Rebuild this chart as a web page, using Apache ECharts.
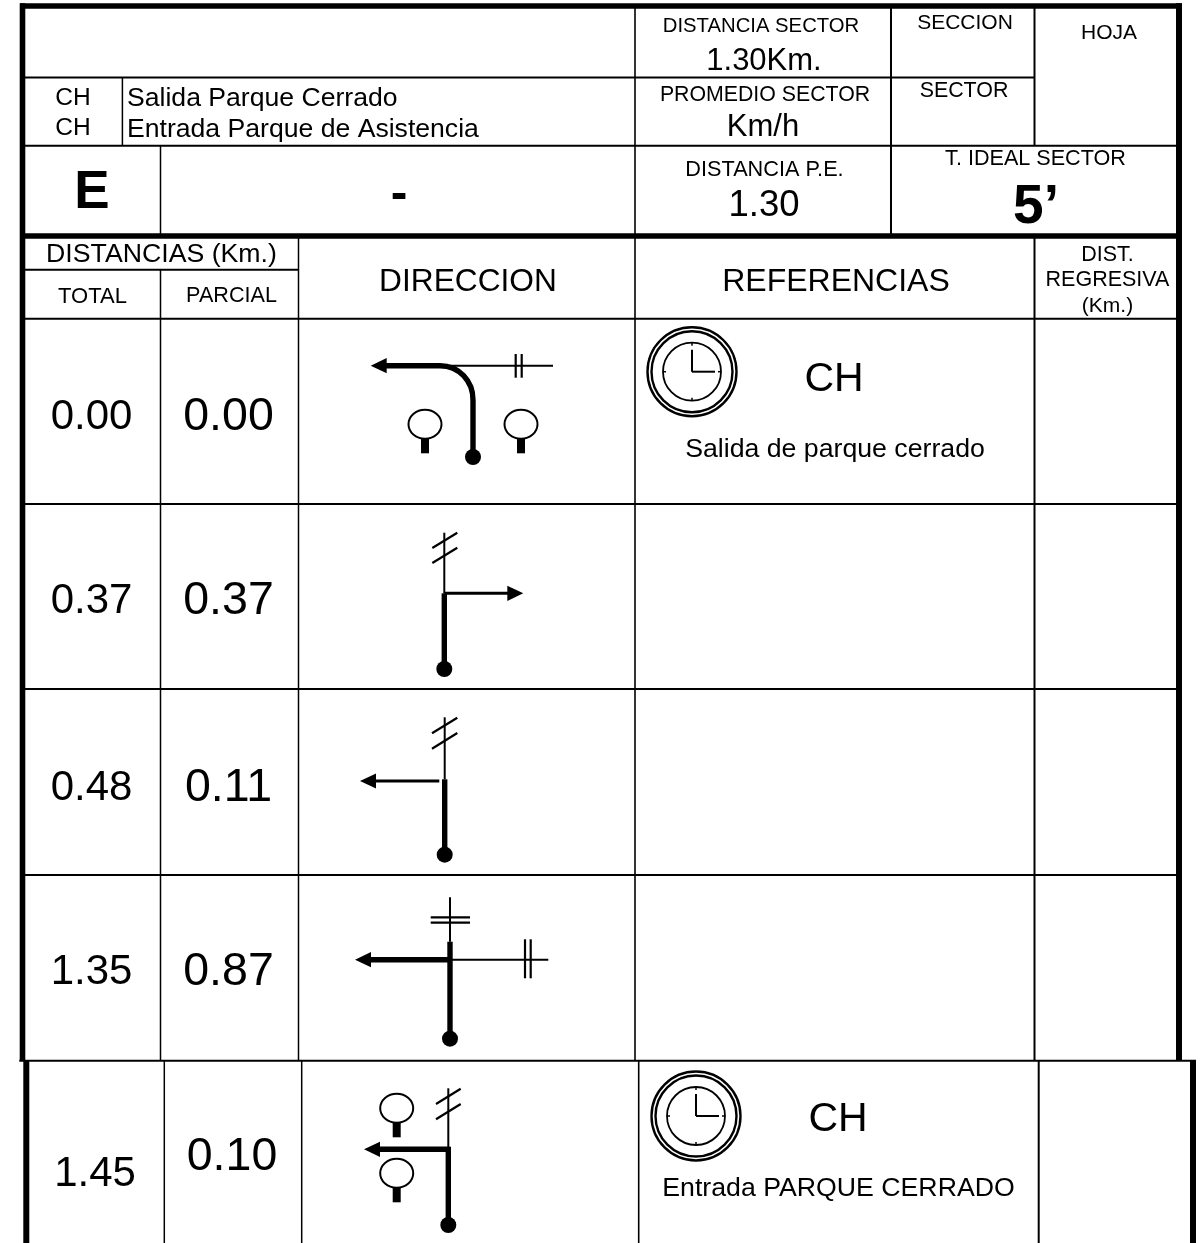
<!DOCTYPE html>
<html>
<head>
<meta charset="utf-8">
<title>Hoja de ruta</title>
<script src="https://cdn.jsdelivr.net/npm/echarts@6/dist/echarts.min.js"></script>
<style>
html,body{margin:0;padding:0;background:#fff;overflow:hidden}
#main{width:1203px;height:1243px}
</style>
</head>
<body>
<div id="main"></div>
<script>
// valores de la hoja
var totals = ['0.00', '0.37', '0.48', '1.35', '1.45'];
var partials = ['0.00', '0.37', '0.11', '0.87', '0.10'];
var controlCodes = ['CH', 'CH'];
var controlNames = ['Salida Parque Cerrado', 'Entrada Parque de Asistencia'];
var sectorLabels = ['DISTANCIA SECTOR', '1.30Km.', 'SECCION', 'HOJA', 'PROMEDIO SECTOR', 'Km/h', 'SECTOR', 'DISTANCIA P.E.', '1.30', 'T. IDEAL SECTOR'];
var columnLabels = ['DISTANCIAS (Km.)', 'TOTAL', 'PARCIAL', 'DIRECCION', 'REFERENCIAS', 'DIST.', 'REGRESIVA', '(Km.)'];
var stageLabels = ['E', '-', '5’'];
var referenceCodes = ['CH', 'CH'];
var referenceNotes = ['Salida de parque cerrado', 'Entrada PARQUE CERRADO'];

// ---- maquetacion (unidades del eje = px de pagina)
var FONT = '"Liberation Sans", Arial, sans-serif';
var rowLines = [318.7, 504, 689, 875];
var pageBreak = 1060.7, pageEnd = 1243;

var rules = [
  // marco superior
  [20, 6, 1182, 6, 5.4], [22.5, 3.3, 22.5, pageBreak, 5.6], [1179, 3.3, 1179, pageBreak, 6],
  [20, 236, 1182, 236, 5.4],
  // cabecera
  [22, 77.5, 1034.5, 77.5, 2], [22, 145.7, 1177, 145.7, 2], [122.4, 77.5, 122.4, 145.7, 1.5],
  [160.5, 145.7, 160.5, 234, 1.5], [635, 8, 635, pageBreak, 1.6], [891, 8, 891, 234, 2],
  [1034.5, 8, 1034.5, 145.7, 2], [22, 269.7, 298.5, 269.7, 2],
  [160.5, 269.7, 160.5, pageBreak, 1.5], [298.5, 238, 298.5, pageBreak, 1.5], [1034.5, 238, 1034.5, pageBreak, 2],
  // segunda hoja pegada
  [19.3, pageBreak, 1196, pageBreak, 2], [26.3, pageBreak, 26.3, pageEnd, 6], [1193, pageBreak, 1193, pageEnd, 6],
  [164.3, pageBreak, 164.3, pageEnd, 1.5], [301.7, pageBreak, 301.7, pageEnd, 1.5],
  [638.7, pageBreak, 638.7, pageEnd, 1.6], [1038.7, pageBreak, 1038.7, pageEnd, 2]
];
rowLines.forEach(function (y) { rules.push([22, y, 1177, y, 2]); });

// [texto, x, y, tamano, negrita, alineacion]
var labels = [
  [controlCodes[0], 73, 97, 24.5], [controlCodes[1], 73, 127, 24.5],
  [controlNames[0], 127, 97, 26.6, 0, 'left'], [controlNames[1], 127, 128, 26.6, 0, 'left'],
  [sectorLabels[0], 761, 25, 20.3], [sectorLabels[1], 764, 59, 31],
  [sectorLabels[2], 965, 22, 21], [sectorLabels[3], 1109, 32, 21],
  [sectorLabels[4], 765, 94, 21.3], [sectorLabels[5], 763, 125, 31],
  [sectorLabels[6], 964, 90, 21.4], [sectorLabels[7], 764.5, 169, 21.7],
  [sectorLabels[8], 764, 203, 36.5], [sectorLabels[9], 1035.5, 158, 21.6],
  [columnLabels[0], 161.5, 253, 26.7], [columnLabels[1], 92.5, 295, 22], [columnLabels[2], 231.5, 295, 21.6],
  [columnLabels[3], 468, 280, 31.7], [columnLabels[4], 836, 280, 32],
  [columnLabels[5], 1107.5, 254, 21.5], [columnLabels[6], 1107.5, 279, 21.5], [columnLabels[7], 1107.5, 305, 21],
  [stageLabels[0], 92, 190, 53, 1], [stageLabels[1], 399, 192, 50, 1], [stageLabels[2], 1036, 204, 55, 1],
  [referenceCodes[0], 834, 377, 41], [referenceNotes[0], 835, 448, 26.7],
  [referenceCodes[1], 838, 1117, 41], [referenceNotes[1], 838.5, 1187, 26.7]
];
var totalY = [414, 598, 785, 969, 1171.7];
var partialY = [414, 598, 785, 969, 1154];
totals.forEach(function (t, i) { labels.push([t, i == 4 ? 95 : 91.5, totalY[i], 42]); });
partials.forEach(function (t, i) { labels.push([t, i == 4 ? 232 : 228.5, partialY[i], 46.5]); });

// croquis de cada casilla
var sketches = [
  { thin: [[440, 365.7, 553, 365.7]], bars: [[515.7, 354, 515.7, 377.7], [521.7, 354, 521.7, 377.7]],
    thick: [[386, 365.7, 440, 365.7], [473, 400, 473, 457]], curve: [440, 365.7, 459, 365.7, 473, 381, 473, 400],
    head: [370.7, 365.7, -1], dot: [473, 457], trees: [[425, 424.3], [521, 424.3]] },
  { thin: [[444.3, 532.7, 444.3, 593.3]], bars: [[432.3, 548, 457.3, 532.7], [432.3, 563, 457.3, 547.7]],
    thick: [[444.3, 593.3, 444.3, 669]], mid: [[444.3, 593.3, 508, 593.3]],
    head: [523.3, 593.3, 1], dot: [444.3, 669], trees: [] },
  { thin: [[444.7, 717.3, 444.7, 779.3]], bars: [[432, 733.3, 457.3, 717.7], [432, 748.7, 457.3, 733]],
    thick: [[444.7, 779.3, 444.7, 854.7]], mid: [[376, 781, 439.3, 781]],
    head: [360, 781, -1], dot: [444.7, 854.7], trees: [] },
  { thin: [[450, 897.3, 450, 941.7], [450, 959.7, 548.3, 959.7]],
    bars: [[430.7, 917.3, 470, 917.3], [430.7, 922.7, 470, 922.7], [525, 939.3, 525, 978.3], [530.7, 939.3, 530.7, 978.3]],
    thick: [[450, 941.7, 450, 1038.7], [370, 959.7, 450, 959.7]],
    head: [355, 959.7, -1], dot: [450, 1038.7], trees: [] },
  { thin: [[448.3, 1088.3, 448.3, 1149.3]], bars: [[436, 1104, 460.7, 1088.7], [436, 1119.3, 460.7, 1104]],
    thick: [[448.3, 1147, 448.3, 1225], [379, 1149.3, 450.5, 1149.3]],
    head: [364, 1149.3, -1], dot: [448.3, 1225], trees: [[396.7, 1108.3], [396.7, 1173.3]] }
];
var clocks = [[692, 371.7], [696, 1116]];

function seg(api, s, w) {
  var a = api.coord([s[0], s[1]]), b = api.coord([s[2], s[3]]);
  return { type: 'line', shape: { x1: a[0], y1: a[1], x2: b[0], y2: b[1] }, style: { stroke: '#000', lineWidth: w, fill: null } };
}

function renderRule(params, api) {
  return seg(api, rules[params.dataIndex], rules[params.dataIndex][4]);
}

function renderLabel(params, api) {
  var l = labels[params.dataIndex];
  // el middle del canvas queda un poco alto
  var p = api.coord([l[1], l[2] + l[3] * 0.07]);
  return {
    type: 'text',
    style: {
      x: p[0], y: p[1], text: l[0], fill: '#000',
      font: (l[4] ? 'bold ' : '') + l[3] + 'px ' + FONT,
      align: l[5] || 'center', verticalAlign: 'middle'
    }
  };
}

function renderSketch(params, api) {
  var k = sketches[params.dataIndex], out = [];
  k.thin.forEach(function (s) { out.push(seg(api, s, 2)); });
  k.bars.forEach(function (s) { out.push(seg(api, s, 2.2)); });
  (k.mid || []).forEach(function (s) { out.push(seg(api, s, 3)); });
  k.thick.forEach(function (s) { out.push(seg(api, s, 5.4)); });
  if (k.curve) {
    var c = k.curve, p0 = api.coord([c[0], c[1]]), p1 = api.coord([c[2], c[3]]), p2 = api.coord([c[4], c[5]]), p3 = api.coord([c[6], c[7]]);
    out.push({ type: 'bezierCurve', shape: { x1: p0[0], y1: p0[1], cpx1: p1[0], cpy1: p1[1], cpx2: p2[0], cpy2: p2[1], x2: p3[0], y2: p3[1] },
      style: { stroke: '#000', lineWidth: 5.4, fill: null } });
  }
  var tip = k.head, t = api.coord([tip[0], tip[1]]), b = api.coord([tip[0] - tip[2] * 16, tip[1] - 7.6]), d = api.coord([tip[0] - tip[2] * 16, tip[1] + 7.6]);
  out.push({ type: 'polygon', shape: { points: [t, b, d] }, style: { fill: '#000' } });
  var dot = api.coord(k.dot);
  out.push({ type: 'circle', shape: { cx: dot[0], cy: dot[1], r: 8 }, style: { fill: '#000' } });
  k.trees.forEach(function (c) {
    var e = api.coord(c);
    out.push({ type: 'ellipse', shape: { cx: e[0], cy: e[1], rx: 16.5, ry: 14.5 }, style: { fill: '#fff', stroke: '#000', lineWidth: 2 } });
    out.push({ type: 'rect', shape: { x: e[0] - 4, y: e[1] + 14, width: 8, height: 15 }, style: { fill: '#000' } });
  });
  return { type: 'group', children: out };
}

function renderClock(params, api) {
  var c = api.coord(clocks[params.dataIndex]), out = [];
  [[44.5, 2.4], [40.5, 2.4], [29, 1.8]].forEach(function (r) {
    out.push({ type: 'circle', shape: { cx: c[0], cy: c[1], r: r[0] }, style: { fill: null, stroke: '#000', lineWidth: r[1] } });
  });
  function tick(x1, y1, x2, y2, w) {
    out.push({ type: 'line', shape: { x1: c[0] + x1, y1: c[1] + y1, x2: c[0] + x2, y2: c[1] + y2 }, style: { stroke: '#000', lineWidth: w } });
  }
  tick(0, 0, 0, -22, 2); tick(0, 0, 23, 0, 2);
  tick(0, -29, 0, -26, 1.5); tick(0, 29, 0, 26, 1.5); tick(-29, 0, -26, 0, 1.5); tick(29, 0, 26, 0, 1.5);
  return { type: 'group', children: out };
}

function indexData(list) {
  return list.map(function (v, i) { return [i, i]; });
}

var myChart = echarts.init(document.getElementById('main'));
var option = {
  animation: false,
  backgroundColor: '#fff',
  grid: { left: 0, right: 0, top: 0, bottom: 0 },
  xAxis: { type: 'value', min: 0, max: 1203, show: false },
  yAxis: { type: 'value', min: 0, max: 1243, inverse: true, show: false },
  series: [
    { type: 'custom', name: 'tabla', silent: true, clip: false, renderItem: renderRule, data: indexData(rules) },
    { type: 'custom', name: 'relojes', silent: true, clip: false, renderItem: renderClock, data: indexData(clocks) },
    { type: 'custom', name: 'croquis', silent: true, clip: false, renderItem: renderSketch, data: indexData(sketches) },
    { type: 'custom', name: 'textos', silent: true, clip: false, renderItem: renderLabel, data: indexData(labels) }
  ]
};
myChart.setOption(option);
</script>
</body>
</html>
